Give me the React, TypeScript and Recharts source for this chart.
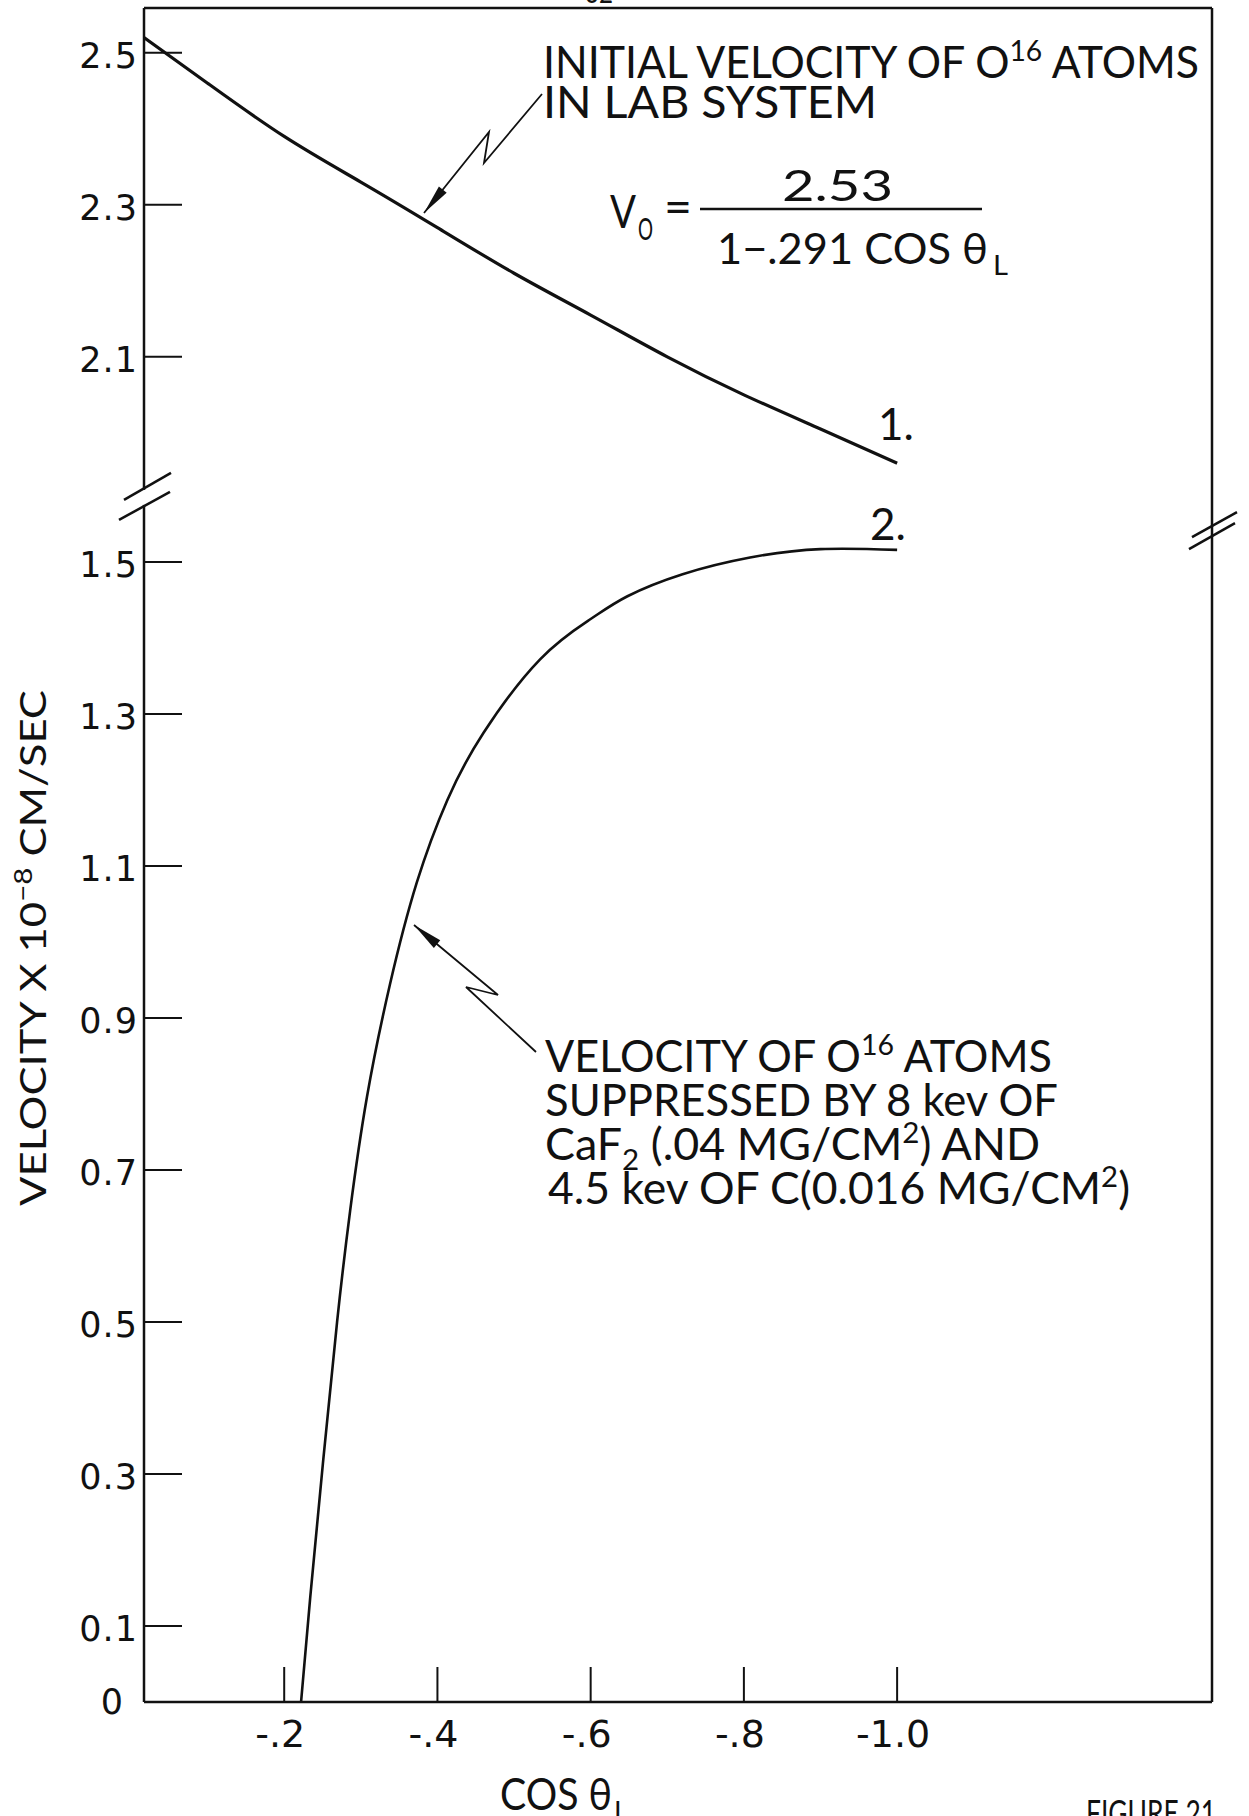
import { LineChart, Line, XAxis, YAxis, ReferenceLine, ReferenceDot } from "recharts";

// curve 1: initial velocity of O16 atoms in the lab system
const COS_INITIAL = [-0.017, -0.1, -0.2, -0.3, -0.4, -0.5, -0.6, -0.7, -0.8, -0.9, -1.0];
const V_INITIAL = [2.52, 2.46, 2.39, 2.33, 2.27, 2.21, 2.155, 2.1, 2.05, 2.005, 1.96];

// curve 2: velocity after the CaF2 + C layers
const COS_SUPPRESSED = [
  -0.222, -0.234, -0.251, -0.269, -0.286, -0.308, -0.338, -0.373, -0.413, -0.46, -0.534, -0.6,
  -0.648, -0.72, -0.808, -0.9, -1.0,
];
const V_SUPPRESSED = [
  0, 0.138, 0.319, 0.5, 0.646, 0.796, 0.944, 1.078, 1.187, 1.275, 1.372, 1.425, 1.455, 1.484,
  1.506, 1.517, 1.516,
];

const COS_TICKS = [-0.2, -0.4, -0.6, -0.8, -1.0];
const COS_TICK_LABELS = ["-.2", "-.4", "-.6", "-.8", "-1.0"];
const V_TICKS = [0, 0.1, 0.3, 0.5, 0.7, 0.9, 1.1, 1.3, 1.5, 2.1, 2.3, 2.5];
const V_TICK_LABELS = ["0", "0.1", "0.3", "0.5", "0.7", "0.9", "1.1", "1.3", "1.5", "2.1", "2.3", "2.5"];

// broken y axis: values above BREAK are pulled down by GAP
const BREAK = 1.6;
const GAP = 0.33;
const toAxis = (v: number) => (v > BREAK ? v - GAP : v);

const X_DOMAIN: [number, number] = [-1.411, -0.017];
const Y_TOP = 2.229;
const LEFT_BREAK_Y = 1.587;
const RIGHT_BREAK_Y = 1.542;

const INK = "#111";
const FONT = "'DejaVu Sans', sans-serif";
const NOTE_FONT = "Lato, 'DejaVu Sans', sans-serif";

const initial = COS_INITIAL.map((c, i) => ({ cos: c, v: toAxis(V_INITIAL[i]) }));
const suppressed = COS_SUPPRESSED.map((c, i) => ({ cos: c, v: toAxis(V_SUPPRESSED[i]) }));

function YTick(props: any) {
  const { x, y, payload } = props;
  const i = V_TICKS.findIndex((t) => Math.abs(toAxis(t) - payload.value) < 1e-6);
  const label = V_TICK_LABELS[i] ?? "";
  const isZero = V_TICKS[i] === 0;
  return (
    <g>
      {!isZero && <line x1={x} y1={y} x2={x + 38} y2={y} stroke={INK} strokeWidth={2} />}
      <text
        x={x - (isZero ? 20 : 6)}
        y={y + (isZero ? 12 : 15)}
        textAnchor="end"
        fontSize={35}
        fontFamily={FONT}
        fill={INK}
        letterSpacing={1}
      >
        {label}
      </text>
    </g>
  );
}

function XTick(props: any) {
  const { x, y, payload } = props;
  const i = COS_TICKS.findIndex((t) => Math.abs(t - payload.value) < 1e-6);
  return (
    <g>
      <line x1={x} y1={y} x2={x} y2={y - 35} stroke={INK} strokeWidth={2} />
      <text x={x - 4} y={y + 45} textAnchor="middle" fontSize={38} fontFamily={FONT} fill={INK}>
        {COS_TICK_LABELS[i]}
      </text>
    </g>
  );
}

// double slash on the left axis, with the axis cut between the slashes
function LeftBreak(props: any) {
  const { cx, cy } = props;
  return (
    <g stroke={INK} strokeWidth={2.5}>
      <line x1={cx} y1={cy - 6} x2={cx} y2={cy + 9} stroke="#fff" strokeWidth={5} />
      <line x1={cx - 20} y1={cy + 4} x2={cx + 27} y2={cy - 23} />
      <line x1={cx - 25} y1={cy + 24} x2={cx + 26} y2={cy - 4} />
    </g>
  );
}

function RightBreak(props: any) {
  const { cx, cy } = props;
  return (
    <g stroke={INK} strokeWidth={2.5}>
      <line x1={cx - 20} y1={cy + 7} x2={cx + 25} y2={cy - 18} />
      <line x1={cx - 23} y1={cy + 19} x2={cx + 23} y2={cy - 7} />
    </g>
  );
}

function Arrow({ points }: { points: number[][] }) {
  const d = points.map((p, i) => `${i ? "L" : "M"}${p[0]},${p[1]}`).join(" ");
  const [tx, ty] = points[points.length - 1];
  const [px, py] = points[points.length - 2];
  const len = Math.hypot(px - tx, py - ty);
  const ux = (px - tx) / len;
  const uy = (py - ty) / len;
  const bx = tx + ux * 30;
  const by = ty + uy * 30;
  const head = `${tx},${ty} ${bx - uy * 5},${by + ux * 5} ${bx + uy * 5},${by - ux * 5}`;
  return (
    <g>
      <path d={d} fill="none" stroke={INK} strokeWidth={1.8} />
      <polygon points={head} fill={INK} />
    </g>
  );
}

function Notes() {
  const t = {
    fontFamily: NOTE_FONT,
    fontWeight: 400,
    fill: INK,
    lengthAdjust: "spacingAndGlyphs" as const,
  };
  return (
    <svg
      width={1249}
      height={1816}
      style={{ position: "absolute", left: 0, top: 0, pointerEvents: "none" }}
    >
      <text {...t} x={585} y={3} fontSize={30} textLength={28}>32</text>

      <text {...t} x={543} y={78} fontSize={44} textLength={656}>
        INITIAL VELOCITY OF O<tspan dy={-17} fontSize={29}>16</tspan>
        <tspan dy={17}> ATOMS</tspan>
      </text>
      <text {...t} x={543} y={118} fontSize={44} textLength={334}>IN LAB SYSTEM</text>
      <Arrow points={[[542, 94], [484, 163], [489, 132], [424, 213]]} />

      <text {...t} x={610} y={228} fontSize={46} textLength={26}>V</text>
      <text {...t} x={638} y={240} fontSize={31} textLength={15}>O</text>
      <text {...t} x={664} y={223} fontSize={46} textLength={28}>=</text>
      <line x1={700} y1={209} x2={982} y2={209} stroke={INK} strokeWidth={2.5} />
      <text {...t} x={782} y={201} fontSize={42} textLength={111}>2.53</text>
      <text {...t} x={717} y={264} fontSize={42} textLength={271}>1−.291 COS θ</text>
      <text {...t} x={993} y={275} fontSize={27} textLength={15}>L</text>

      <text {...t} x={878} y={440} fontSize={44}>1.</text>
      <text {...t} x={870} y={540} fontSize={44}>2.</text>

      <Arrow points={[[536, 1052], [466, 987], [498, 995], [414, 925]]} />
      <text {...t} x={545} y={1072} fontSize={44} textLength={507}>
        VELOCITY OF O<tspan dy={-17} fontSize={29}>16</tspan>
        <tspan dy={17}> ATOMS</tspan>
      </text>
      <text {...t} x={545} y={1116} fontSize={44} textLength={513}>SUPPRESSED BY 8 kev OF</text>
      <text {...t} x={545} y={1160} fontSize={44} textLength={495}>
        CaF<tspan dy={10} fontSize={29}>2</tspan>
        <tspan dy={-10}> (.04 MG/CM</tspan>
        <tspan dy={-17} fontSize={29}>2</tspan>
        <tspan dy={17}>) AND</tspan>
      </text>
      <text {...t} x={548} y={1204} fontSize={44} textLength={582}>
        4.5 kev OF C(0.016 MG/CM<tspan dy={-17} fontSize={29}>2</tspan>
        <tspan dy={17}>)</tspan>
      </text>

      <text {...t} transform="translate(46 948) rotate(-90)" textAnchor="middle" fontSize={37} textLength={516}>
        VELOCITY X 10<tspan dy={-14} fontSize={25}>−8</tspan>
        <tspan dy={14}> CM/SEC</tspan>
      </text>

      <text {...t} x={500} y={1810} fontSize={45} textLength={112}>COS θ</text>
      <text {...t} x={614} y={1822} fontSize={29} textLength={14}>L</text>

      <text {...t} x={1086} y={1826} fontSize={37} textLength={130}>FIGURE 21</text>
    </svg>
  );
}

export default function App() {
  return (
    <div style={{ position: "absolute", left: 0, top: 0, width: 1249, height: 1816, background: "#fff" }}>
      <LineChart width={1249} height={1816} margin={{ top: 8, right: 37, bottom: 54, left: 84 }}>
        <XAxis
          type="number"
          dataKey="cos"
          domain={X_DOMAIN}
          reversed
          allowDataOverflow
          ticks={COS_TICKS}
          interval={0}
          height={60}
          tickSize={0}
          tickMargin={0}
          tickLine={false}
          axisLine={{ stroke: INK, strokeWidth: 2.5 }}
          tick={XTick}
        />
        <YAxis
          type="number"
          domain={[0, Y_TOP]}
          allowDataOverflow
          ticks={V_TICKS.map(toAxis)}
          interval={0}
          width={60}
          tickSize={0}
          tickMargin={0}
          tickLine={false}
          axisLine={{ stroke: INK, strokeWidth: 2.5 }}
          tick={YTick}
        />
        <ReferenceLine y={Y_TOP} stroke={INK} strokeWidth={2.5} />
        <ReferenceLine x={X_DOMAIN[0]} stroke={INK} strokeWidth={2.5} />
        <Line
          data={initial}
          dataKey="v"
          type="natural"
          stroke={INK}
          strokeWidth={3.2}
          dot={false}
          isAnimationActive={false}
        />
        <Line
          data={suppressed}
          dataKey="v"
          type="natural"
          stroke={INK}
          strokeWidth={2.6}
          dot={false}
          isAnimationActive={false}
        />
        <ReferenceDot x={X_DOMAIN[1]} y={LEFT_BREAK_Y} ifOverflow="visible" shape={LeftBreak} />
        <ReferenceDot x={X_DOMAIN[0]} y={RIGHT_BREAK_Y} ifOverflow="visible" shape={RightBreak} />
      </LineChart>
      <Notes />
    </div>
  );
}
